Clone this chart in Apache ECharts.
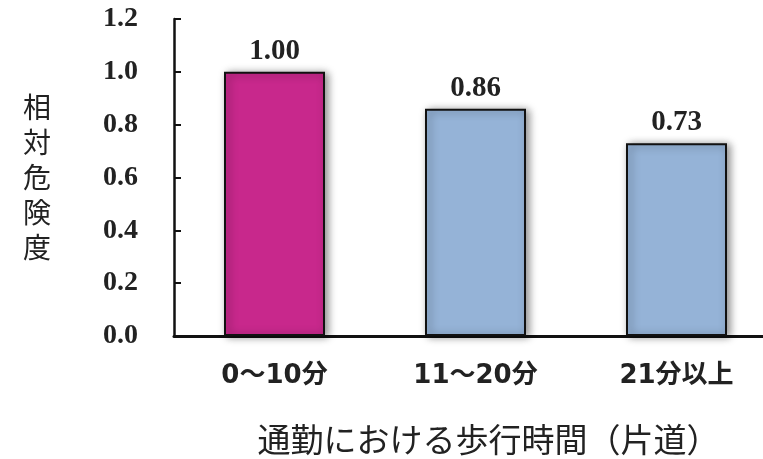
<!DOCTYPE html>
<html>
<head>
<meta charset="utf-8">
<script src="https://cdn.jsdelivr.net/npm/echarts@6/dist/echarts.min.js"></script>
<style>
  html, body { margin: 0; padding: 0; background: #fff; }
  #chart { width: 763px; height: 459px; }
</style>
</head>
<body>
<div id="chart"></div>
<script>
// data
var categories = ['0〜10分', '11〜20分', '21分以上'];
var relativeRisk = [1.00, 0.86, 0.73];
var barColors = ['#C8288C', '#95B3D7', '#95B3D7'];
var yTicks = { min: 0, max: 1.2, interval: 0.2 };
var yName = '相対危険度';
var xName = '通勤における歩行時間（片道）';

var chart = echarts.init(document.getElementById('chart'));

var option = {
  animation: false,
  grid: {
    left: 174,
    top: 19,
    width: 603,
    bottom: 123,
    outerBoundsMode: 'none'
  },
  xAxis: {
    type: 'category',
    data: categories,
    name: xName,
    nameLocation: 'middle',
    nameGap: 87,
    nameTextStyle: {
      fontFamily: 'Noto Sans CJK JP',
      fontSize: 33,
      color: '#222',
      padding: [0, 0, 0, 26]
    },
    axisLine: { lineStyle: { color: '#111', width: 3 } },
    axisTick: { show: false },
    axisLabel: {
      margin: 27,
      fontFamily: '"DejaVu Sans", "Noto Sans CJK JP"',
      fontWeight: 'bold',
      fontSize: 26,
      color: '#222'
    }
  },
  yAxis: {
    type: 'value',
    min: yTicks.min,
    max: yTicks.max,
    interval: yTicks.interval,
    name: yName.split('').join('\n'),
    nameLocation: 'middle',
    nameRotate: 0,
    nameGap: 123,
    nameTextStyle: {
      fontFamily: 'Noto Sans CJK JP',
      fontSize: 28,
      lineHeight: 35,
      color: '#222'
    },
    splitLine: { show: false },
    axisLine: { show: true, lineStyle: { color: '#111', width: 2.5 } },
    axisTick: { show: true, inside: true, length: 7, lineStyle: { color: '#111', width: 2 } },
    axisLabel: {
      margin: 36,
      fontFamily: 'Liberation Serif',
      fontWeight: 'bold',
      fontSize: 28,
      color: '#222',
      formatter: function (v) { return v.toFixed(1); }
    }
  },
  series: [{
    type: 'bar',
    barWidth: 101,
    data: relativeRisk.map(function (v, i) {
      return { value: v, itemStyle: { color: barColors[i] } };
    }),
    itemStyle: {
      borderColor: '#111',
      borderWidth: 2,
      shadowColor: 'rgba(0,0,0,0.45)',
      shadowBlur: 8,
      shadowOffsetX: 3,
      shadowOffsetY: 1
    },
    label: {
      show: true,
      position: 'top',
      distance: 6,
      fontFamily: 'Liberation Serif',
      fontWeight: 'bold',
      fontSize: 29,
      color: '#222',
      formatter: function (p) { return p.value.toFixed(2); }
    }
  }]
};

chart.setOption(option);
</script>
</body>
</html>
